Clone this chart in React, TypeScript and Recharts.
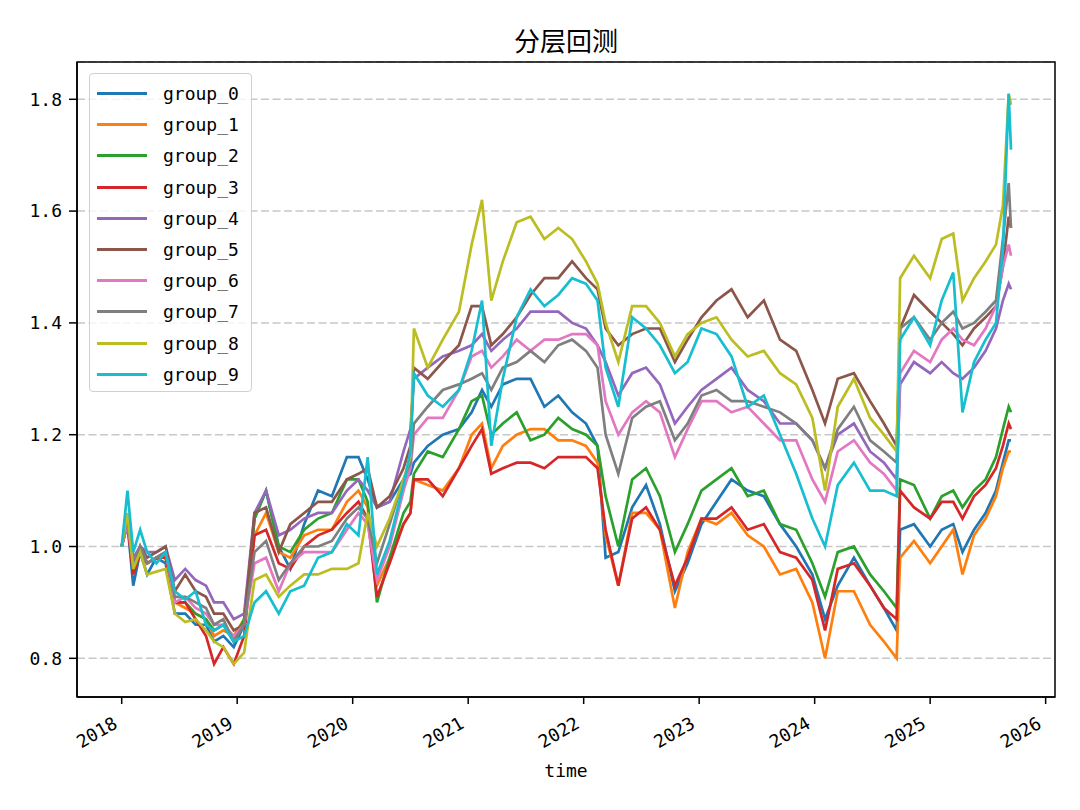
import React from 'react';
import { LineChart, Line, XAxis, YAxis, CartesianGrid, ReferenceArea } from 'recharts';

// time axis in fractional years
const times = [
  2018.0, 2018.05, 2018.1, 2018.16, 2018.22, 2018.3, 2018.38, 2018.46, 2018.55, 2018.64, 2018.73, 2018.8, 2018.88, 2018.97,
  2019.06, 2019.15, 2019.25, 2019.36, 2019.46, 2019.58, 2019.7, 2019.82, 2019.95,
  2020.05, 2020.13, 2020.21, 2020.32, 2020.44, 2020.5, 2020.53, 2020.65, 2020.78, 2020.92,
  2021.03, 2021.12, 2021.2, 2021.3, 2021.42, 2021.54, 2021.66, 2021.78, 2021.9,
  2022.02, 2022.12, 2022.19, 2022.3, 2022.42, 2022.54, 2022.66, 2022.79, 2022.9,
  2023.02, 2023.15, 2023.28, 2023.42, 2023.56, 2023.7, 2023.84, 2023.98,
  2024.09, 2024.2, 2024.34, 2024.48, 2024.6, 2024.71, 2024.74, 2024.86,
  2025.0, 2025.1, 2025.2, 2025.28, 2025.38, 2025.48, 2025.57, 2025.63, 2025.68, 2025.7,
];

const group0 = [
  1.0, 1.04, 0.93, 0.99, 0.95, 0.98, 0.97, 0.88, 0.88, 0.86, 0.86, 0.83, 0.84, 0.82,
  0.86, 1.05, 1.1, 1.0, 0.96, 1.04, 1.1, 1.09, 1.16,
  1.16, 1.12, 1.07, 1.08, 1.12, 1.13, 1.15, 1.18, 1.2, 1.21,
  1.24, 1.28, 1.25, 1.29, 1.3, 1.3, 1.25, 1.27, 1.24,
  1.22, 1.18, 0.98, 0.99, 1.07, 1.11, 1.04, 0.92, 0.97,
  1.04, 1.08, 1.12, 1.1, 1.09, 1.04, 1.0, 0.95,
  0.87, 0.93, 0.98, 0.93, 0.89, 0.85, 1.03, 1.04,
  1.0, 1.03, 1.04, 0.99, 1.03, 1.06, 1.1, 1.15, 1.19, 1.19,
];
const group1 = [
  1.0, 1.05, 0.96, 1.0, 0.97, 0.98, 0.98, 0.9, 0.89, 0.88, 0.87, 0.84, 0.85, 0.84,
  0.87, 1.02, 1.06, 0.99, 0.98, 1.02, 1.03, 1.03, 1.08,
  1.1, 1.07, 0.93, 0.98, 1.04, 1.06, 1.12, 1.11, 1.1, 1.14,
  1.2, 1.22, 1.14, 1.18, 1.2, 1.21, 1.21, 1.19, 1.19,
  1.18, 1.15, 1.02, 0.93, 1.06, 1.06, 1.03, 0.89, 0.99,
  1.05, 1.04, 1.06, 1.02, 1.0, 0.95, 0.96, 0.9,
  0.8, 0.92, 0.92, 0.86, 0.83, 0.8, 0.98, 1.01,
  0.97, 1.0, 1.03, 0.95, 1.02, 1.05, 1.09, 1.14, 1.17, 1.17,
];
const group2 = [
  1.0, 1.05, 0.97, 1.0, 0.97, 0.98, 0.99, 0.9, 0.9, 0.88, 0.87, 0.85, 0.86, 0.83,
  0.87, 1.05, 1.1, 1.0, 0.99, 1.03, 1.05, 1.06, 1.12,
  1.12, 1.08, 0.9, 0.98, 1.06, 1.08, 1.13, 1.17, 1.16, 1.21,
  1.26, 1.27, 1.2, 1.22, 1.24, 1.19, 1.2, 1.23, 1.21,
  1.2, 1.18, 1.09, 1.0, 1.12, 1.14, 1.09, 0.99, 1.04,
  1.1, 1.12, 1.14, 1.09, 1.1, 1.04, 1.03, 0.97,
  0.91, 0.99, 1.0, 0.95, 0.92, 0.89, 1.12, 1.11,
  1.05, 1.09, 1.1, 1.07, 1.1, 1.12, 1.16, 1.21, 1.25, 1.24,
];
const group3 = [
  1.0, 1.04, 0.95, 0.99, 0.97, 0.98, 0.98, 0.9, 0.9, 0.87, 0.84, 0.79, 0.82, 0.79,
  0.84, 1.02, 1.03, 0.97, 0.96, 1.0, 1.02, 1.03, 1.06,
  1.08, 1.05, 0.91, 0.97, 1.04, 1.06, 1.12, 1.12, 1.09, 1.14,
  1.18, 1.21, 1.13, 1.14, 1.15, 1.15, 1.14, 1.16, 1.16,
  1.16, 1.14, 1.03, 0.93, 1.05, 1.07, 1.03, 0.93, 0.98,
  1.05, 1.05, 1.07, 1.03, 1.04, 0.99, 0.98, 0.94,
  0.85, 0.96, 0.97, 0.93, 0.89, 0.87, 1.1, 1.07,
  1.05, 1.08, 1.08, 1.05, 1.09, 1.11, 1.14, 1.18, 1.22, 1.21,
];
const group4 = [
  1.0, 1.05, 0.98, 1.0, 0.99, 0.99, 1.0, 0.94, 0.96, 0.94, 0.93, 0.9, 0.9, 0.87,
  0.88, 1.06, 1.1, 1.02, 1.03, 1.05, 1.06, 1.06, 1.1,
  1.12, 1.1, 1.07, 1.08, 1.17, 1.21, 1.3, 1.32, 1.34, 1.35,
  1.36, 1.38, 1.35, 1.37, 1.39, 1.42, 1.42, 1.42, 1.4,
  1.39, 1.36, 1.33, 1.27, 1.31, 1.32, 1.29, 1.22, 1.25,
  1.28, 1.3, 1.32, 1.28, 1.26, 1.22, 1.22, 1.19,
  1.14, 1.2, 1.22, 1.17, 1.15, 1.12, 1.29, 1.33,
  1.31, 1.33, 1.31, 1.3, 1.32, 1.35, 1.39, 1.44, 1.47, 1.46,
];
const group5 = [
  1.0, 1.05, 0.97, 1.0, 0.98, 0.99, 1.0, 0.92, 0.95, 0.92, 0.91, 0.88, 0.88, 0.85,
  0.86, 1.06, 1.07, 0.99, 1.04, 1.06, 1.08, 1.08, 1.12,
  1.13, 1.14, 1.07, 1.09, 1.14, 1.18, 1.32, 1.3, 1.33, 1.36,
  1.43, 1.43, 1.36, 1.38, 1.41, 1.45, 1.48, 1.48, 1.51,
  1.48, 1.46, 1.39, 1.36, 1.38, 1.39, 1.39, 1.33, 1.37,
  1.41, 1.44, 1.46, 1.41, 1.44, 1.37, 1.35, 1.28,
  1.22, 1.3, 1.31, 1.26, 1.22, 1.18, 1.39, 1.45,
  1.42, 1.4, 1.38, 1.36, 1.39, 1.41, 1.43, 1.5, 1.59, 1.57,
];
const group6 = [
  1.0, 1.04, 0.97, 1.0, 0.97, 0.98, 0.99, 0.9, 0.91, 0.89, 0.88, 0.86, 0.86, 0.84,
  0.86, 0.97, 0.98, 0.92, 0.97, 0.99, 0.99, 0.99, 1.03,
  1.06, 1.04, 0.94, 1.0, 1.1, 1.14, 1.2, 1.23, 1.23, 1.28,
  1.34, 1.35, 1.32, 1.34, 1.37, 1.35, 1.37, 1.37, 1.38,
  1.38, 1.36, 1.26, 1.2, 1.24, 1.26, 1.24, 1.16, 1.21,
  1.26, 1.26, 1.24, 1.25, 1.22, 1.19, 1.19, 1.12,
  1.08, 1.17, 1.19, 1.15, 1.13, 1.1, 1.31, 1.35,
  1.33, 1.37, 1.39, 1.37, 1.36, 1.39, 1.43, 1.5, 1.54, 1.52,
];
const group7 = [
  1.0, 1.05, 0.97, 1.0, 0.97, 0.98, 0.99, 0.91, 0.91, 0.9, 0.89, 0.86, 0.87, 0.83,
  0.86, 0.99, 1.01, 0.94, 0.97, 1.0, 1.0, 1.01, 1.05,
  1.07, 1.05, 0.97, 1.04, 1.12, 1.15, 1.22, 1.25, 1.28, 1.29,
  1.3, 1.31, 1.28, 1.32, 1.33, 1.35, 1.33, 1.36, 1.37,
  1.35, 1.32, 1.2, 1.13, 1.23, 1.25, 1.26, 1.19, 1.22,
  1.27, 1.28, 1.26, 1.26, 1.25, 1.24, 1.22, 1.19,
  1.14, 1.21, 1.25, 1.19, 1.17, 1.15, 1.39, 1.41,
  1.37, 1.4, 1.42, 1.39, 1.4, 1.42, 1.44, 1.55, 1.65, 1.57,
];
const group8 = [
  1.0, 1.06, 0.96, 0.99, 0.95, 0.955, 0.96, 0.88, 0.865, 0.87, 0.85, 0.83, 0.82, 0.79,
  0.81, 0.94, 0.95, 0.91, 0.93, 0.95, 0.95, 0.96, 0.96,
  0.97, 1.06, 1.0, 1.05, 1.12, 1.16, 1.39, 1.32, 1.37, 1.42,
  1.54, 1.62, 1.44, 1.51, 1.58, 1.59, 1.55, 1.57, 1.55,
  1.51, 1.47, 1.4, 1.33, 1.43, 1.43, 1.4, 1.34, 1.38,
  1.4, 1.41, 1.37, 1.34, 1.35, 1.31, 1.29, 1.23,
  1.1, 1.25, 1.3, 1.23, 1.2, 1.17, 1.48, 1.52,
  1.48, 1.55, 1.56, 1.44, 1.48, 1.51, 1.54, 1.61, 1.81, 1.79,
];
const group9 = [
  1.0, 1.1, 0.99, 1.03, 0.99, 0.97, 0.99, 0.92, 0.905, 0.92, 0.86, 0.85, 0.86, 0.83,
  0.84, 0.9, 0.92, 0.88, 0.92, 0.93, 0.98, 0.99, 1.04,
  1.02, 1.16, 0.95, 1.01, 1.11, 1.17, 1.31, 1.27, 1.25, 1.28,
  1.35, 1.44, 1.18, 1.3, 1.41, 1.46, 1.43, 1.45, 1.48,
  1.47, 1.44, 1.32, 1.25, 1.41, 1.39, 1.36, 1.31, 1.33,
  1.39, 1.38, 1.34, 1.25, 1.27, 1.2, 1.13, 1.05,
  1.0, 1.11, 1.15, 1.1, 1.1, 1.09, 1.37, 1.41,
  1.36, 1.44, 1.49, 1.24, 1.33, 1.37, 1.4, 1.53, 1.81, 1.71,
];

const groupNames = ['group_0', 'group_1', 'group_2', 'group_3', 'group_4', 'group_5', 'group_6', 'group_7', 'group_8', 'group_9'];
const colors = ['#1f77b4', '#ff7f0e', '#2ca02c', '#d62728', '#9467bd', '#8c564b', '#e377c2', '#7f7f7f', '#bcbd22', '#17becf'];
const xTicks = [2018, 2019, 2020, 2021, 2022, 2023, 2024, 2025, 2026];
const yTicks = [0.8, 1.0, 1.2, 1.4, 1.6, 1.8];

const X_DOMAIN: [number, number] = [2017.613, 2026.081];
const Y_DOMAIN: [number, number] = [0.7308, 1.8667];

const MONO = "'DejaVu Sans Mono', monospace";
const CJK = "'Noto Sans CJK SC', sans-serif";

const series = [group0, group1, group2, group3, group4, group5, group6, group7, group8, group9];
const data = times.map((t, i) => {
  const row: Record<string, number> = { t };
  series.forEach((s, k) => {
    row[`g${k}`] = s[i];
  });
  return row;
});

const XTick = ({ x, y, payload }: any) => (
  <g transform={`translate(${x - 3},${y + 21}) rotate(-30)`}>
    <text textAnchor="end" fontSize={18} fontFamily={MONO} fill="#000">
      {payload.value}
    </text>
  </g>
);

function LegendBox() {
  return (
    <div
      style={{
        position: 'absolute',
        left: 89,
        top: 73,
        width: 163,
        height: 319,
        border: '1px solid #d0d0d0',
        borderRadius: 4,
        background: 'rgba(255,255,255,0.8)',
        paddingTop: 4,
        boxSizing: 'border-box',
      }}
    >
      {groupNames.map((name, k) => (
        <div key={name} style={{ height: 31.2, display: 'flex', alignItems: 'center' }}>
          <div style={{ marginLeft: 7, width: 50, height: 3, background: colors[k] }} />
          <span style={{ marginLeft: 16, fontFamily: MONO, fontSize: 18, color: '#000' }}>{name}</span>
        </div>
      ))}
    </div>
  );
}

export default function App() {
  return (
    <div style={{ position: 'absolute', left: 0, top: 0, width: 1080, height: 810, background: '#fff' }}>
      <LineChart width={1080} height={810} data={data} margin={{ top: 62, right: 25, bottom: 53, left: 17 }}>
        <CartesianGrid vertical={false} stroke="#c8c8c8" strokeWidth={1.5} strokeDasharray="8 3.5" />
        <XAxis
          type="number"
          dataKey="t"
          domain={X_DOMAIN}
          ticks={xTicks}
          allowDataOverflow
          height={60}
          tick={<XTick />}
          tickSize={7}
          tickMargin={2}
          tickLine={{ stroke: '#000', strokeWidth: 1.5 }}
          axisLine={{ stroke: '#000', strokeWidth: 1.5 }}
          interval={0}
        />
        <YAxis
          type="number"
          domain={Y_DOMAIN}
          ticks={yTicks}
          allowDataOverflow
          width={60}
          tickFormatter={(v: number) => v.toFixed(1)}
          tick={{ fontSize: 18, fontFamily: MONO, fill: '#000' }}
          tickSize={8}
          tickMargin={7}
          tickLine={{ stroke: '#000', strokeWidth: 1.5 }}
          axisLine={{ stroke: '#000', strokeWidth: 1.5 }}
          interval={0}
        />
        {series.map((_, k) => (
          <Line
            key={k}
            type="linear"
            dataKey={`g${k}`}
            name={groupNames[k]}
            stroke={colors[k]}
            strokeWidth={2.7}
            dot={false}
            isAnimationActive={false}
          />
        ))}
        <ReferenceArea
          x1={X_DOMAIN[0]}
          x2={X_DOMAIN[1]}
          y1={Y_DOMAIN[0]}
          y2={Y_DOMAIN[1]}
          fill="none"
          fillOpacity={0}
          stroke="#000"
          strokeWidth={1.5}
        />
      </LineChart>
      <LegendBox />
      <div
        style={{
          position: 'absolute',
          left: 466,
          top: 26,
          width: 200,
          textAlign: 'center',
          fontFamily: CJK,
          fontSize: 26,
          lineHeight: '28px',
          color: '#000',
        }}
      >
        分层回测
      </div>
      <div
        style={{
          position: 'absolute',
          left: 466,
          top: 760,
          width: 200,
          textAlign: 'center',
          fontFamily: MONO,
          fontSize: 18,
          lineHeight: '22px',
          color: '#000',
        }}
      >
        time
      </div>
    </div>
  );
}
